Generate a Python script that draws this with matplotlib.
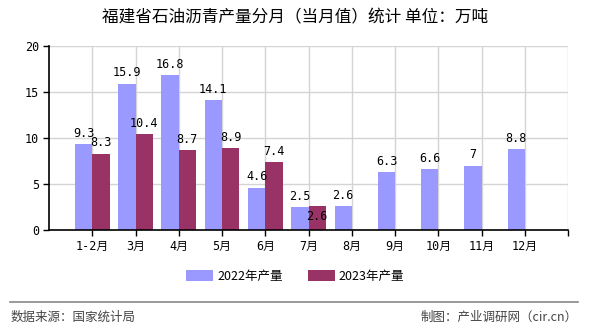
import matplotlib
matplotlib.use("Agg")
import matplotlib.pyplot as plt
import numpy as np

plt.rcParams['font.family'] = ['Noto Sans CJK SC', 'DejaVu Sans']

months = ["1-2月", "3月", "4月", "5月", "6月", "7月", "8月", "9月", "10月", "11月", "12月"]
output_2022 = [9.3, 15.9, 16.8, 14.1, 4.6, 2.5, 2.6, 6.3, 6.6, 7, 8.8]
output_2023 = [8.3, 10.4, 8.7, 8.9, 7.4, 2.6]
yticks = [0, 5, 10, 15, 20]

c2022 = "#9999FF"
c2023 = "#993366"
mono = ['DejaVu Sans Mono', 'Noto Sans CJK SC']

fig = plt.figure(figsize=(5.9, 3.3), dpi=100)
ax = fig.add_axes([0.083, 0.303, 0.880, 0.558])

x = np.arange(len(months))
w = 0.4
x23 = x[:len(output_2023)]
ax.bar(x - w / 2, output_2022, width=w, color=c2022, label="2022年产量", zorder=2)
ax.bar(x23 + w / 2, output_2023, width=w, color=c2023, label="2023年产量", zorder=2)

def fmt(v):
    return f"{v:g}"

for xi, v in zip(x, output_2022):
    ax.annotate(fmt(v), (xi - w / 2, v), xytext=(0, 3), textcoords="offset points",
                ha="center", va="bottom", fontsize=8.5, family=mono, zorder=3)
for i, (xi, v) in enumerate(zip(x23, output_2023)):
    if abs(v - output_2022[i]) < 1.0:
        # too close to the neighbouring label: put it inside the bar
        ax.annotate(fmt(v), (xi + w / 2, v), xytext=(0, -3), textcoords="offset points",
                    ha="center", va="top", fontsize=8.5, family=mono, zorder=3)
    else:
        ax.annotate(fmt(v), (xi + w / 2, v), xytext=(0, 3), textcoords="offset points",
                    ha="center", va="bottom", fontsize=8.5, family=mono, zorder=3)

ax.set_xlim(-1, len(months))
ax.set_ylim(0, 20)
ax.set_yticks(yticks)
ax.set_yticklabels([str(t) for t in yticks], family=mono, fontsize=8.5)
ax.set_xticks(list(x) + [len(months)])
ax.set_xticklabels(months + [""], family=mono, fontsize=8.5)

ax.grid(True, color="#d4d4d4", linewidth=1, zorder=0)
for s in ["top", "right"]:
    ax.spines[s].set_visible(False)
for s in ["left", "bottom"]:
    ax.spines[s].set_color("black")
    ax.spines[s].set_linewidth(1.2)
ax.tick_params(axis="both", length=4, width=1, color="black", pad=3)

fig.text(0.5, 0.945, "福建省石油沥青产量分月（当月值）统计 单位：万吨",
         ha="center", va="center", fontsize=12)

fig.legend(loc="center", bbox_to_anchor=(0.5, 0.163), ncol=2, frameon=False,
           fontsize=9, handlelength=2.2, handleheight=0.9, columnspacing=2.0,
           handletextpad=0.3)

fig.add_artist(plt.Line2D([0.017, 0.979], [0.085, 0.085], color="#888888", linewidth=1.2,
                          transform=fig.transFigure))
fig.text(0.017, 0.04, "数据来源：国家统计局", ha="left", va="center", fontsize=9, color="#444444")
fig.text(0.979, 0.04, "制图：产业调研网（cir.cn）", ha="right", va="center", fontsize=9, color="#444444")

fig.savefig("out.png", dpi=100)
